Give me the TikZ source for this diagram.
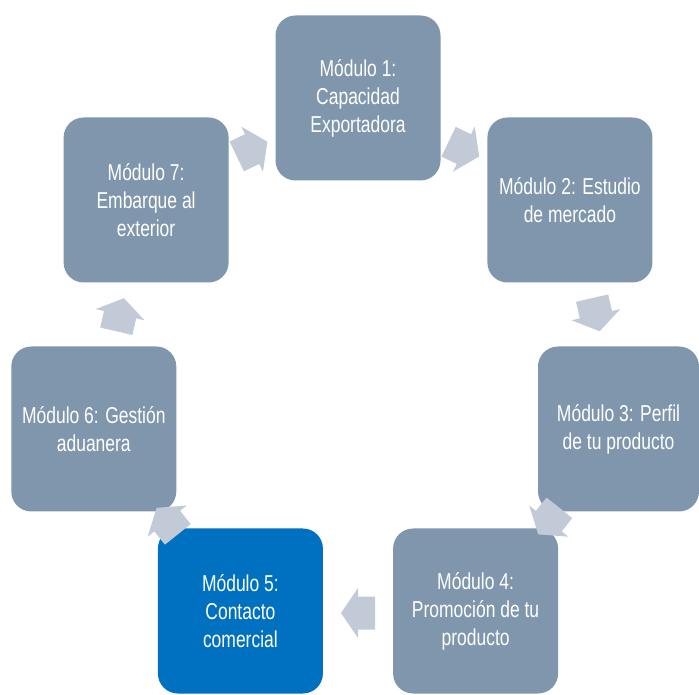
\documentclass[tikz,border=0pt]{standalone}
\usepackage{fontspec}
\setmainfont{Liberation Sans}[FakeStretch=0.76]
\definecolor{boxgray}{HTML}{7F96AD}
\definecolor{arrowgray}{HTML}{C1CAD6}
\definecolor{boxblue}{HTML}{0070C0}
\begin{document}
\begin{tikzpicture}[x=1pt,y=1pt]
\tikzset{
  modbox/.style={rounded corners=20pt, fill=boxgray, text=white,
    minimum width=165pt, minimum height=165pt, align=center,
    font=\fontsize{23}{28}\selectfont, inner sep=0pt},
  blockarrow/.pic={\fill[arrowgray] (-17,-16.5) -- (0,-16.5) -- (0,-25) -- (17,0) -- (0,25) -- (0,16.5) -- (-17,16.5) -- cycle;}
}
\useasboundingbox (0,0) rectangle (699,694);
\node[modbox] (m1) at (358,596) {Módulo 1:\\Capacidad\\Exportadora};
\node[modbox] (m2) at (569.9,494) {Módulo 2: Estudio\\de mercado};
\node[modbox, minimum width=161pt] (m3) at (618.5,265) {Módulo 3: Perfil\\de tu producto};
\node[modbox] (m4) at (475.6,83) {Módulo 4:\\Promoción de tu\\producto};
\node[modbox, fill=boxblue] (m5) at (240.4,83) {Módulo 5:\\Contacto\\comercial};
\node[modbox] (m6) at (93.8,265) {Módulo 6: Gestión\\aduanera};
\node[modbox] (m7) at (146.1,494) {Módulo 7:\\Embarque al\\exterior};
\pic[rotate=-25.71] (a1) at (463.9,544.9) {blockarrow};
\pic[rotate=-77.14] (a2) at (595.9,379.3) {blockarrow};
\pic[rotate=-128.57] (a3) at (548.8,172.9) {blockarrow};
\pic[rotate=180] (a4) at (358,81) {blockarrow};
\pic[rotate=128.57] (a5) at (167.2,172.9) {blockarrow};
\pic[rotate=77.14] (a6) at (120.1,379.3) {blockarrow};
\pic[rotate=25.71] (a7) at (252.1,544.9) {blockarrow};
\end{tikzpicture}
\end{document}
